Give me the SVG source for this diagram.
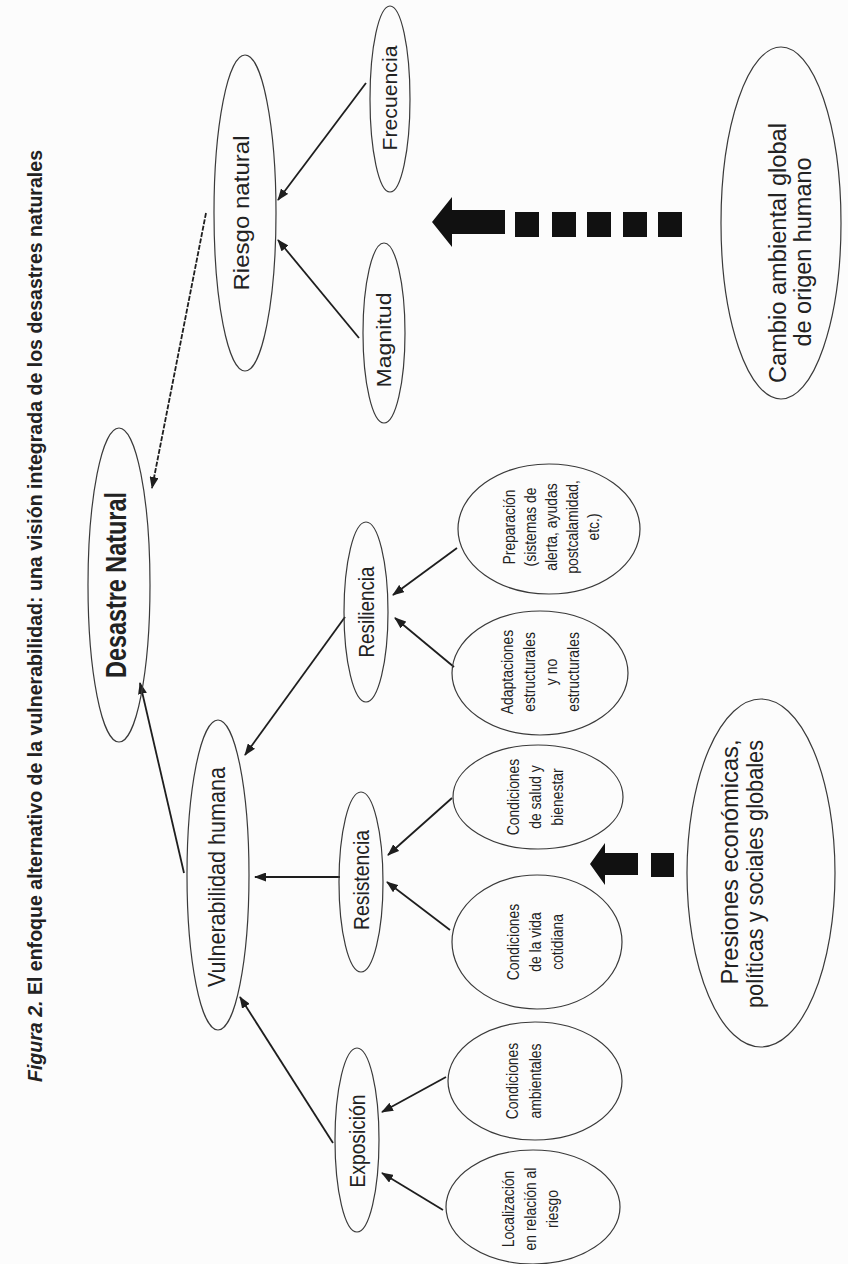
<svg xmlns="http://www.w3.org/2000/svg" width="848" height="1264" viewBox="0 0 848 1264">
<defs>
<style>
.node ellipse{fill:none;stroke:#3a3a3a;stroke-width:1.2}
.t{font-family:"Liberation Sans",Arial,sans-serif;fill:#222;text-anchor:middle}
.big{font-size:22px}
.small{font-size:17px}
.conn line{stroke:#1e1e1e;stroke-width:1.8;marker-end:url(#ah)}
.blk{fill:#111}
</style>
<marker id="ah" markerUnits="userSpaceOnUse" markerWidth="12" markerHeight="9" refX="11" refY="4.5" orient="auto">
<path d="M0,0 L12,4.5 L0,9 z" fill="#1e1e1e"/>
</marker>
</defs>
<rect width="848" height="1264" fill="#fcfcfc"/>

<text class="t" font-size="21" font-weight="bold" fill="#2a2a2a" transform="translate(42,616) rotate(-90)" textLength="932" lengthAdjust="spacingAndGlyphs"><tspan font-style="italic">Figura 2.</tspan> El enfoque alternativo de la vulnerabilidad: una visión integrada de los desastres naturales</text>

<g id="connectors" class="conn">
<line x1="206" y1="213" x2="152" y2="488" stroke-dasharray="5 1.5"/>
<line x1="184" y1="873" x2="140" y2="683"/>
<line x1="345" y1="617" x2="245" y2="755"/>
<line x1="340" y1="877" x2="255" y2="877"/>
<line x1="333" y1="1143" x2="240" y2="997"/>
<line x1="366" y1="83" x2="278" y2="200"/>
<line x1="359" y1="338" x2="278" y2="240"/>
<line x1="457" y1="548" x2="393" y2="595"/>
<line x1="454" y1="667" x2="395" y2="618"/>
<line x1="452" y1="798" x2="388" y2="855"/>
<line x1="450" y1="930" x2="387" y2="882"/>
<line x1="446" y1="1077" x2="382" y2="1112"/>
<line x1="443" y1="1210" x2="382" y2="1173"/>
</g>

<g id="arrow-cambio">
<polygon class="blk" points="432,222 452,197 452,210 505,210 505,234 452,234 452,247"/>
<rect class="blk" x="515" y="212" width="24" height="25"/>
<rect class="blk" x="552" y="212" width="24" height="25"/>
<rect class="blk" x="587" y="212" width="24" height="25"/>
<rect class="blk" x="623" y="212" width="24" height="25"/>
<rect class="blk" x="658" y="212" width="24" height="25"/>
</g>
<g id="arrow-presiones">
<polygon class="blk" points="590,864 605,843 605,853 638,853 638,875 605,875 605,885"/>
<rect class="blk" x="651" y="853" width="23" height="24"/>
</g>

<g id="desastre" class="node">
<ellipse cx="119" cy="585" rx="31" ry="157"/>
<text class="t" font-size="30" font-weight="bold" transform="translate(126,585) rotate(-90)" textLength="186" lengthAdjust="spacingAndGlyphs">Desastre Natural</text>
</g>
<g id="riesgo" class="node">
<ellipse cx="245" cy="213" rx="31" ry="158"/>
<text class="t big" transform="translate(249,213) rotate(-90)" textLength="155" lengthAdjust="spacingAndGlyphs">Riesgo natural</text>
</g>
<g id="frecuencia" class="node">
<ellipse cx="390" cy="99" rx="20" ry="93"/>
<text class="t" font-size="21" transform="translate(397,98) rotate(-90)" textLength="105" lengthAdjust="spacingAndGlyphs">Frecuencia</text>
</g>
<g id="magnitud" class="node">
<ellipse cx="384" cy="333" rx="21" ry="90"/>
<text class="t" font-size="21" transform="translate(391,340) rotate(-90)" textLength="95" lengthAdjust="spacingAndGlyphs">Magnitud</text>
</g>
<g id="cambio" class="node">
<ellipse cx="781" cy="223" rx="60" ry="176"/>
<text class="t" font-size="23" transform="translate(786,253) rotate(-90)" textLength="260" lengthAdjust="spacingAndGlyphs">Cambio ambiental global</text>
<text class="t" font-size="23" transform="translate(811,252) rotate(-90)" textLength="189" lengthAdjust="spacingAndGlyphs">de origen humano</text>
</g>
<g id="vulnerabilidad" class="node">
<ellipse cx="218" cy="875" rx="31" ry="155"/>
<text class="t" font-size="24" transform="translate(225,877) rotate(-90)" textLength="220" lengthAdjust="spacingAndGlyphs">Vulnerabilidad humana</text>
</g>
<g id="resiliencia" class="node">
<ellipse cx="366" cy="612" rx="22" ry="90"/>
<text class="t big" transform="translate(374,612) rotate(-90)" textLength="91" lengthAdjust="spacingAndGlyphs">Resiliencia</text>
</g>
<g id="resistencia" class="node">
<ellipse cx="361" cy="882" rx="22" ry="90"/>
<text class="t big" transform="translate(369,880) rotate(-90)" textLength="100" lengthAdjust="spacingAndGlyphs">Resistencia</text>
</g>
<g id="exposicion" class="node">
<ellipse cx="357" cy="1140" rx="22" ry="92"/>
<text class="t big" transform="translate(365,1141) rotate(-90)" textLength="93" lengthAdjust="spacingAndGlyphs">Exposición</text>
</g>
<g id="preparacion" class="node">
<ellipse cx="549" cy="529" rx="91" ry="65"/>
<text class="t small" transform="translate(0,527) rotate(-90) scale(0.82,1)"><tspan x="0" y="515">Preparación</tspan><tspan x="0" y="536">(sistemas de</tspan><tspan x="0" y="557">alerta, ayudas</tspan><tspan x="0" y="578">postcalamidad,</tspan><tspan x="0" y="599">etc.)</tspan></text>
</g>
<g id="adaptaciones" class="node">
<ellipse cx="540" cy="673" rx="88" ry="62"/>
<text class="t small" transform="translate(0,672) rotate(-90) scale(0.82,1)"><tspan x="0" y="513">Adaptaciones</tspan><tspan x="0" y="535">estructurales</tspan><tspan x="0" y="557">y no</tspan><tspan x="0" y="579">estructurales</tspan></text>
</g>
<g id="salud" class="node">
<ellipse cx="538" cy="797" rx="85" ry="52"/>
<text class="t small" transform="translate(0,797) rotate(-90) scale(0.82,1)"><tspan x="0" y="519">Condiciones</tspan><tspan x="0" y="541">de salud y</tspan><tspan x="0" y="563">bienestar</tspan></text>
</g>
<g id="cotidiana" class="node">
<ellipse cx="537" cy="942" rx="85" ry="67"/>
<text class="t small" transform="translate(0,942) rotate(-90) scale(0.82,1)"><tspan x="0" y="519">Condiciones</tspan><tspan x="0" y="541">de la vida</tspan><tspan x="0" y="563">cotidiana</tspan></text>
</g>
<g id="ambientales" class="node">
<ellipse cx="535" cy="1081" rx="87" ry="59"/>
<text class="t small" transform="translate(0,1081) rotate(-90) scale(0.82,1)"><tspan x="0" y="518">Condiciones</tspan><tspan x="0" y="541">ambientales</tspan></text>
</g>
<g id="localizacion" class="node">
<ellipse cx="533" cy="1207" rx="87" ry="57"/>
<text class="t small" transform="translate(0,1209) rotate(-90) scale(0.82,1)"><tspan x="0" y="514">Localización</tspan><tspan x="0" y="536">en relación al</tspan><tspan x="0" y="558">riesgo</tspan></text>
</g>
<g id="presiones" class="node">
<ellipse cx="761" cy="873" rx="74" ry="174"/>
<text class="t" font-size="24" transform="translate(738,862) rotate(-90)" textLength="245" lengthAdjust="spacingAndGlyphs">Presiones económicas,</text>
<text class="t" font-size="24" transform="translate(763,874) rotate(-90)" textLength="268" lengthAdjust="spacingAndGlyphs">políticas y sociales globales</text>
</g>
</svg>
